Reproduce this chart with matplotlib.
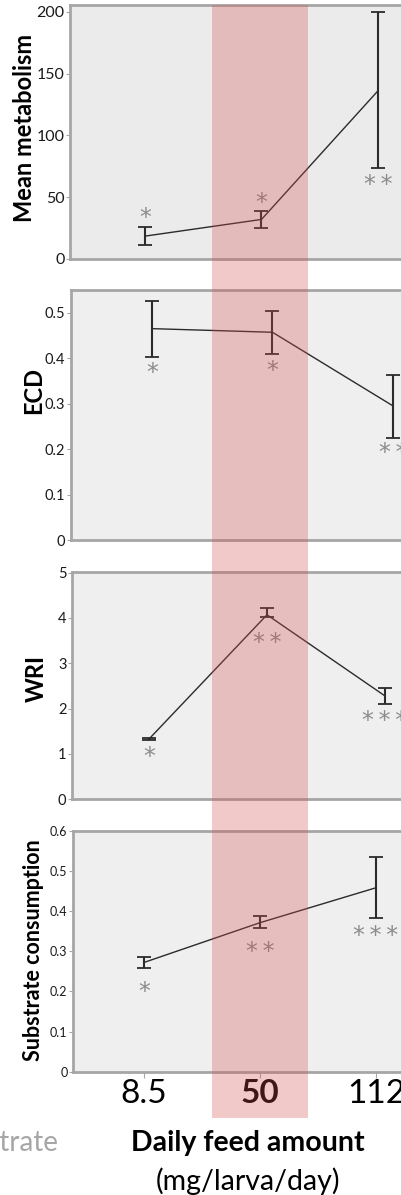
import matplotlib
matplotlib.use("Agg")
import matplotlib.pyplot as plt
from matplotlib.patches import Rectangle
from matplotlib.transforms import offset_copy

plt.rcParams['font.family'] = ['Lato', 'DejaVu Sans']

# ---- data ----
feed_labels = ["8.5", "50", "112"]

metab_mean = [18.5, 32.0, 136.0]
metab_lo = [11.0, 25.0, 73.5]
metab_hi = [26.0, 39.0, 199.5]
metab_stars = ["*", "*", "**"]
metab_star_y = [37, 49, 64]

ecd_mean = [0.465, 0.457, 0.295]
ecd_lo = [0.403, 0.410, 0.224]
ecd_hi = [0.526, 0.504, 0.362]
ecd_stars = ["*", "*", "**"]
ecd_star_y = [0.378, 0.383, 0.202]

wri_mean = [1.33, 4.07, 2.28]
wri_lo = [1.30, 4.01, 2.11]
wri_hi = [1.36, 4.21, 2.46]
wri_stars = ["*", "**", "***"]
wri_star_y = [1.05, 3.56, 1.83]

sub_mean = [0.272, 0.371, 0.458]
sub_lo = [0.258, 0.357, 0.383]
sub_hi = [0.285, 0.388, 0.535]
sub_stars = ["*", "**", "***"]
sub_star_y = [0.21, 0.31, 0.35]

W, H = 402, 1195
fig = plt.figure(figsize=(W / 100, H / 100), dpi=100)


def rect(left, right, top, bottom):
    return [left / W, 1 - bottom / H, (right - left) / W, (bottom - top) / H]


panels = [
    dict(r=rect(70, 420, 5, 259), xlim=(-0.644, 2.361), ylim=(0, 205.4),
         yticks=[0, 50, 100, 150, 200], ylabels=["0", "50", "100", "150", "200"],
         mean=metab_mean, lo=metab_lo, hi=metab_hi, stars=metab_stars, sy=metab_star_y,
         ylabel="Mean metabolism", bg="#EBEBEB", tfs=11.5, labx=25, laby=128, lfs=17),
    dict(r=rect(71, 420, 290, 540), xlim=(-0.672, 2.224), ylim=(0, 0.55),
         yticks=[0, 0.1, 0.2, 0.3, 0.4, 0.5], ylabels=["0", "0.1", "0.2", "0.3", "0.4", "0.5"],
         mean=ecd_mean, lo=ecd_lo, hi=ecd_hi, stars=ecd_stars, sy=ecd_star_y,
         ylabel="ECD", bg="#EFEFEF", tfs=10.5, labx=34, laby=390, lfs=17),
    dict(r=rect(72, 420, 571.7, 799.3), xlim=(-0.653, 2.297), ylim=(0, 5.02),
         yticks=[0, 1, 2, 3, 4, 5], ylabels=["0", "1", "2", "3", "4", "5"],
         mean=wri_mean, lo=wri_lo, hi=wri_hi, stars=wri_stars, sy=wri_star_y,
         ylabel="WRI", bg="#EFEFEF", tfs=10.5, labx=36, laby=678, lfs=17),
    dict(r=rect(73, 420, 830.7, 1071.7), xlim=(-0.612, 2.379), ylim=(0, 0.6),
         yticks=[0, 0.1, 0.2, 0.3, 0.4, 0.5, 0.6],
         ylabels=["0", "0.1", "0.2", "0.3", "0.4", "0.5", "0.6"],
         mean=sub_mean, lo=sub_lo, hi=sub_hi, stars=sub_stars, sy=sub_star_y,
         ylabel="Substrate consumption", bg="#EFEFEF", tfs=9, labx=34, laby=950, lfs=15.5),
]

xs = list(range(len(feed_labels)))
for i, p in enumerate(panels):
    ax = fig.add_axes(p["r"])
    ax.set_facecolor(p["bg"])
    ax.set_xlim(*p["xlim"])
    ax.set_ylim(*p["ylim"])
    for s in ax.spines.values():
        s.set_color("#A6A6A6")
        s.set_linewidth(2.0)
    ax.set_yticks(p["yticks"])
    ax.set_yticklabels(p["ylabels"], fontsize=p["tfs"], color="#1a1a1a")
    ax.tick_params(axis="y", length=3, width=0.8, color="#A6A6A6", pad=1)
    if i < 3:
        ax.set_xticks([])
    else:
        ax.set_xticks(xs)
        ax.set_xticklabels(feed_labels, fontsize=24, color="black")
        ax.get_xticklabels()[1].set_fontweight("bold")
        ax.tick_params(axis="x", length=4, width=0.8, color="#A6A6A6", pad=1)
    yerr = [[m - l for m, l in zip(p["mean"], p["lo"])],
            [h - m for m, h in zip(p["mean"], p["hi"])]]
    ax.errorbar(xs, p["mean"], yerr=yerr, color="#2b2b2b", lw=1.0, elinewidth=1.5,
                capsize=5, capthick=1.3)
    star_tr = offset_copy(ax.transData, fig=fig, y=-5, units="dots")
    for x, s, y in zip(xs, p["stars"], p["sy"]):
        ax.text(x, y, "\u2009".join(s), ha="center", va="center", fontsize=17,
                color="#8c8c8c", family="DejaVu Sans", transform=star_tr)
    fig.text(p["labx"] / W, 1 - p["laby"] / H,
             p["ylabel"], rotation=90, ha="center", va="center", fontsize=p["lfs"],
             fontweight="bold", color="black")

fig.text(248 / W, 1 - 1143 / H, "Daily feed amount", ha="center", va="center",
         fontsize=20.5, fontweight="bold", color="black")
fig.text(248 / W, 1 - 1181 / H, "(mg/larva/day)", ha="center", va="center",
         fontsize=20.5, color="black")
fig.text(58 / W, 1 - 1143 / H, "Substrate", ha="right", va="center",
         fontsize=20, color="#A6A6A6")

band = Rectangle((212 / W, 1 - 1118 / H), 96 / W, (1118 - 5) / H,
                 transform=fig.transFigure, facecolor="#D44E4E", alpha=0.3,
                 edgecolor="none", zorder=10)
fig.patches.append(band)

fig.savefig("out.png", dpi=100)
